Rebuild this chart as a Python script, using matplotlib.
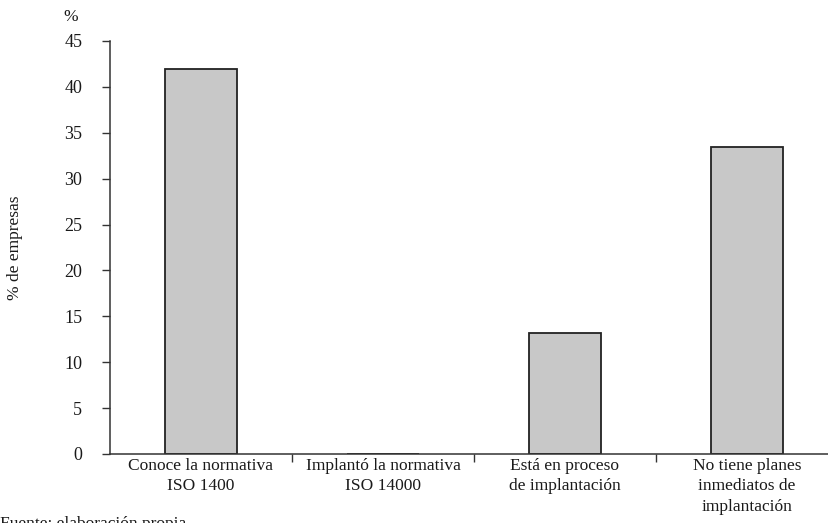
import matplotlib
matplotlib.use("Agg")
import matplotlib.pyplot as plt

categories = ["Conoce la normativa\nISO 1400",
              "Implantó la normativa\nISO 14000",
              "Está en proceso\nde implantación",
              "No tiene planes\ninmediatos de\nimplantación"]
values = [41.9, 0.0, 13.2, 33.4]
yticks = [0, 5, 10, 15, 20, 25, 30, 35, 40, 45]

plt.rcParams['font.family'] = ['Liberation Serif', 'DejaVu Serif']

fig = plt.figure(figsize=(8.29, 5.23), dpi=100)
ax = fig.add_axes([110/829, 69/523, 728/829, 413/523])

x = list(range(len(categories)))
ax.bar(x, values, width=0.40, color="#c8c8c8", edgecolor="#222222", linewidth=1.3, zorder=2)

ax.set_xlim(-0.5, len(categories) - 0.5)
ax.set_ylim(0, 45)
ax.set_yticks(yticks)
ax.set_yticklabels([str(v) for v in yticks], fontsize=13, color="#1a1a1a")

# category labels centred in each slot, ticks on slot boundaries
ax.set_xticks([i + 0.5 for i in range(len(categories) - 1)])
ax.set_xticklabels([])
ax.set_xticks(x, minor=True)
ax.set_xticklabels(categories, minor=True, fontsize=12.5, color="#1a1a1a", linespacing=1.35)
ax.tick_params(axis='x', which='minor', length=0, pad=3)
ax.tick_params(axis='x', which='major', length=6, width=1, color="#333333", direction='out')
ax.tick_params(axis='y', length=6, width=1, color="#333333", pad=14)

for s in ["top", "right"]:
    ax.spines[s].set_visible(False)
for s in ["left", "bottom"]:
    ax.spines[s].set_color("#333333")
    ax.spines[s].set_linewidth(1.1)

ax.set_ylabel("% de empresas", fontsize=12.5, color="#1a1a1a")
ax.yaxis.set_label_coords(-0.119, 0.5)
fig.text(63/829, 1 - 17/523, "%", fontsize=12.5, color="#1a1a1a", va="center", ha="left")
fig.text(0.0, 1 - 516/523, "Fuente: elaboración propia.", fontsize=12.5, color="#1a1a1a",
         va="top", ha="left")

fig.savefig("out.png", dpi=100)
